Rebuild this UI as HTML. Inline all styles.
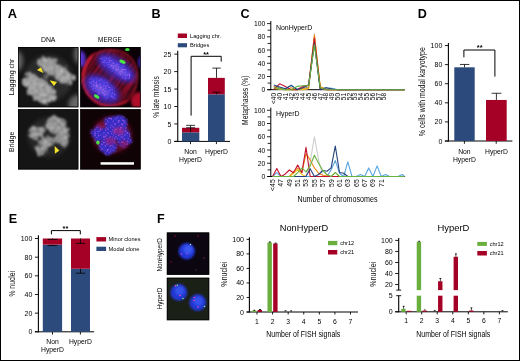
<!DOCTYPE html>
<html><head><meta charset="utf-8"><title>Figure</title>
<style>
html,body{margin:0;padding:0;background:#fff;}
body{width:520px;height:361px;overflow:hidden;position:relative;}
svg{position:absolute;left:0;top:0;display:block;font-family:"Liberation Sans",sans-serif;}
</style></head><body>
<svg width="520" height="361" viewBox="0 0 520 361">
<defs>
<filter id="b1" x="-30%" y="-30%" width="160%" height="160%"><feGaussianBlur stdDeviation="1"/></filter>
<filter id="b15" x="-30%" y="-30%" width="160%" height="160%"><feGaussianBlur stdDeviation="1.5"/></filter>
<filter id="b2" x="-30%" y="-30%" width="160%" height="160%"><feGaussianBlur stdDeviation="2.2"/></filter>
<filter id="b05" x="-30%" y="-30%" width="160%" height="160%"><feGaussianBlur stdDeviation="0.6"/></filter>
<filter id="chr" x="-10%" y="-10%" width="120%" height="120%" color-interpolation-filters="sRGB">
<feTurbulence type="fractalNoise" baseFrequency="0.16" numOctaves="2" seed="4" result="n"/>
<feDisplacementMap in="SourceGraphic" in2="n" scale="9" xChannelSelector="R" yChannelSelector="G" result="d"/>
<feGaussianBlur in="d" stdDeviation="1.0" result="db"/>
<feTurbulence type="fractalNoise" baseFrequency="0.3" numOctaves="2" seed="11" result="n2"/>
<feColorMatrix in="n2" type="matrix" values="0 0 0 0 1  0 0 0 0 1  0 0 0 0 1  1.1 0 0 0 -0.36" result="n2a"/>
<feComposite in="n2a" in2="db" operator="in" result="tex"/>
<feGaussianBlur in="tex" stdDeviation="0.9" result="texb"/>
<feMerge><feMergeNode in="db"/><feMergeNode in="texb"/></feMerge>
</filter>
<filter id="fib" x="-10%" y="-10%" width="120%" height="120%" color-interpolation-filters="sRGB">
<feTurbulence type="fractalNoise" baseFrequency="0.03 0.5" numOctaves="2" seed="5" result="n"/>
<feColorMatrix in="n" type="matrix" values="0 0 0 0 0.72  0 0 0 0 0.06  0 0 0 0 0.2  1.7 0 0 0 -0.62" result="na"/>
<feGaussianBlur in="SourceGraphic" stdDeviation="1.2" result="sb"/>
<feComposite in="na" in2="sb" operator="in" result="t"/>
<feGaussianBlur in="t" stdDeviation="0.6" result="tb"/>
<feMerge><feMergeNode in="sb"/><feMergeNode in="tb"/></feMerge>
</filter>
<filter id="spk" x="-10%" y="-10%" width="120%" height="120%" color-interpolation-filters="sRGB">
<feTurbulence type="fractalNoise" baseFrequency="0.14" numOctaves="2" seed="9" result="n0"/>
<feDisplacementMap in="SourceGraphic" in2="n0" scale="7" xChannelSelector="R" yChannelSelector="G" result="d"/>
<feGaussianBlur in="d" stdDeviation="1.3" result="sb"/>
<feTurbulence type="fractalNoise" baseFrequency="0.55" numOctaves="1" seed="2" result="n"/>
<feColorMatrix in="n" type="matrix" values="0 0 0 0 0.8  0 0 0 0 0.4  0 0 0 0 0.95  2.6 0 0 0 -1.25" result="na"/>
<feComposite in="na" in2="sb" operator="in" result="t"/>
<feGaussianBlur in="t" stdDeviation="0.5" result="tb"/>
<feMerge><feMergeNode in="sb"/><feMergeNode in="tb"/></feMerge>
</filter>
<clipPath id="cA1"><rect x="18" y="47" width="60.3" height="60.2"/></clipPath>
<clipPath id="cA2"><rect x="18" y="109.2" width="60.3" height="60.2"/></clipPath>
<clipPath id="cA3"><rect x="80.2" y="47" width="60.4" height="60.2"/></clipPath>
<clipPath id="cA4"><rect x="80.2" y="109.2" width="60.4" height="60.2"/></clipPath>
<clipPath id="cF1"><rect x="166.7" y="232.4" width="42.6" height="42.4"/></clipPath>
<clipPath id="cF2"><rect x="166.7" y="277.6" width="42.6" height="42.7"/></clipPath>
</defs>
<rect x="0" y="0" width="520" height="361" fill="#fff"/>
<g opacity="0.999">

<!-- Panel A -->
<text x="7.75" y="17.8" font-size="12.6" text-anchor="start" font-weight="bold" textLength="9.3" lengthAdjust="spacingAndGlyphs" fill="#000" >A</text>
<text x="48.2" y="42.3" font-size="6.8" text-anchor="middle" textLength="14.6" lengthAdjust="spacingAndGlyphs" fill="#000" >DNA</text>
<text x="109.9" y="42.3" font-size="6.8" text-anchor="middle" textLength="23.6" lengthAdjust="spacingAndGlyphs" fill="#000" >MERGE</text>
<text x="14.1" y="77" font-size="6.7" text-anchor="middle" transform="rotate(-90 14.1 77)" textLength="36.6" lengthAdjust="spacingAndGlyphs" fill="#000" >Lagging chr</text>
<text x="14.1" y="141.8" font-size="6.8" text-anchor="middle" transform="rotate(-90 14.1 141.8)" textLength="20.4" lengthAdjust="spacingAndGlyphs" fill="#000" >Bridge</text>
<g clip-path="url(#cA1)">
<rect x="18.00" y="47.00" width="61.00" height="61.00" fill="#161616"/>
<ellipse cx="48.5" cy="78" rx="24" ry="23" fill="#2b2b2b" filter="url(#b2)"/>
<g filter="url(#b2)">
<ellipse cx="17.5" cy="61" rx="5.5" ry="10" fill="#666"/>
<ellipse cx="79.5" cy="54" rx="5.5" ry="10" fill="#666"/>
<ellipse cx="78" cy="104.5" rx="9.5" ry="9.5" fill="#666"/>
</g>
<g filter="url(#chr)" fill="#888888">
<ellipse cx="55" cy="70" rx="20" ry="7.5" transform="rotate(30 55 70)"/>
<ellipse cx="67" cy="79" rx="7.5" ry="6.5"/>
<ellipse cx="45" cy="61.5" rx="7" ry="5"/>
<ellipse cx="41" cy="90" rx="17" ry="10.5" transform="rotate(38 41 90)"/>
<ellipse cx="30" cy="80.5" rx="7" ry="7.5"/>
<ellipse cx="50" cy="99" rx="6" ry="5"/>
<ellipse cx="46.5" cy="77" rx="2.3" ry="1.8" fill="#6a6a6a"/>
</g>
<polygon points="36.9,70 41.1,67.2 43.3,73" fill="#F4E22A"/>
<polygon points="49.6,80.3 57,82.1 54,86" fill="#F4E22A"/>
</g>
<g clip-path="url(#cA2)">
<rect x="18.00" y="109.00" width="61.00" height="61.00" fill="#151515"/>
<ellipse cx="49" cy="137" rx="21" ry="20" fill="#282828" filter="url(#b2)"/>
<g filter="url(#chr)" fill="#7e7e7e">
<ellipse cx="37" cy="132.5" rx="9.5" ry="6" transform="rotate(-20 37 132.5)"/>
<ellipse cx="55" cy="124" rx="9" ry="9" transform="rotate(30 55 124)"/>
<ellipse cx="62.5" cy="135.5" rx="7" ry="10"/>
<ellipse cx="41.5" cy="149.5" rx="6" ry="5.5"/>
<ellipse cx="46" cy="141.5" rx="6" ry="5.5"/>
<ellipse cx="53" cy="139.5" rx="7" ry="2.2"/>
</g>
<polygon points="54.6,145.9 59.4,150.6 54.9,153.7" fill="#F4E22A"/>
</g>
<g clip-path="url(#cA3)">
<rect x="80.20" y="47.00" width="61.00" height="61.00" fill="#0b0207"/>
<g transform="rotate(-55 109 77)"><g filter="url(#fib)">
<ellipse cx="109" cy="77" rx="27.5" ry="28.5" fill="#420a18"/>
</g></g>
<g filter="url(#b1)" fill="none" stroke-linecap="round">
<path d="M 92 56 Q 82 66 83.5 82 Q 86 97 100 104 Q 114 108 127 101" stroke="#d01a30" stroke-width="2.5"/>
<path d="M 92 56 Q 104 48 120 51 Q 132 55 136.5 68 Q 139 80 134 92 Q 131 98 127 101" stroke="#9c1426" stroke-width="1.6"/>
</g>
<g filter="url(#b15)">
<ellipse cx="139" cy="101" rx="8" ry="9" fill="#b0102c"/>
<ellipse cx="81" cy="59" rx="4.5" ry="8" fill="#5a32d0"/>
<ellipse cx="141.5" cy="62" rx="3" ry="6" fill="#4a2ad0"/>
</g>
<g filter="url(#b2)" fill="#3a2cc0" opacity="0.8">
<ellipse cx="116.5" cy="68" rx="22" ry="10.5" transform="rotate(33 116.5 68)"/>
<ellipse cx="102" cy="89" rx="20" ry="12" transform="rotate(35 102 89)"/>
</g>
<g filter="url(#spk)" fill="#4438d8">
<ellipse cx="117" cy="68" rx="18" ry="6" transform="rotate(33 117 68)"/>
<ellipse cx="102.5" cy="88.5" rx="16" ry="7.5" transform="rotate(35 102.5 88.5)"/>
</g>
<g filter="url(#b15)" fill="#a070e8" opacity="0.5">
<ellipse cx="119" cy="70" rx="11" ry="2.6" transform="rotate(33 119 70)"/>
<ellipse cx="101" cy="89.5" rx="10" ry="3" transform="rotate(35 101 89.5)"/>
</g>
<g filter="url(#b05)">
<ellipse cx="122.5" cy="61.7" rx="3.3" ry="1.7" transform="rotate(25 122.5 61.7)" fill="#49e83f"/>
<ellipse cx="127.4" cy="49.5" rx="2.4" ry="1.5" fill="#3fd83f"/>
<ellipse cx="96.7" cy="96.6" rx="3" ry="1.7" transform="rotate(30 96.7 96.6)" fill="#49e83f"/>
</g>
</g>
<g clip-path="url(#cA4)">
<rect x="80.20" y="109.00" width="61.00" height="61.00" fill="#100305"/>
<g filter="url(#b2)">
<ellipse cx="112" cy="135" rx="20" ry="18.5" fill="#5a0c26"/>
</g>
<g filter="url(#spk)" fill="#342cc4">
<ellipse cx="100" cy="134" rx="8.5" ry="8"/>
<ellipse cx="116" cy="125" rx="12" ry="9"/>
<ellipse cx="108" cy="147" rx="9" ry="7.5"/>
<ellipse cx="124" cy="138" rx="7" ry="9.5"/>
<ellipse cx="112" cy="137" rx="7" ry="6"/>
</g>
<g filter="url(#b15)" opacity="0.55">
<ellipse cx="119" cy="131" rx="6" ry="4" fill="#c02070"/>
<ellipse cx="110" cy="141" rx="5" ry="4" fill="#b01860"/>
<ellipse cx="124" cy="144" rx="4" ry="4" fill="#a01040"/>
<ellipse cx="101" cy="126" rx="4" ry="3" fill="#a01040"/>
</g>
<g filter="url(#b05)">
<ellipse cx="97.9" cy="142.6" rx="1.7" ry="2.1" fill="#4fe23f"/>
</g>
<rect x="100.20" y="161.80" width="34.20" height="3.30" fill="#000"/>
<rect x="100.60" y="162.20" width="33.40" height="2.50" fill="#fff"/>
</g>
<rect x="18.35" y="47.35" width="59.599999999999994" height="59.5" fill="none" stroke="#000" stroke-width="0.7"/>
<rect x="18.35" y="109.55" width="59.599999999999994" height="59.5" fill="none" stroke="#000" stroke-width="0.7"/>
<rect x="80.55" y="47.35" width="59.699999999999996" height="59.5" fill="none" stroke="#000" stroke-width="0.7"/>
<rect x="80.55" y="109.55" width="59.699999999999996" height="59.5" fill="none" stroke="#000" stroke-width="0.7"/>
<!-- Panel B -->
<text x="151.5" y="17.7" font-size="12.6" text-anchor="start" font-weight="bold" fill="#000" >B</text>
<rect x="177.80" y="33.50" width="9.20" height="4.50" fill="#A50026"/>
<text x="190" y="38" font-size="5.7" text-anchor="start" fill="#000" >Lagging chr.</text>
<rect x="177.80" y="43.20" width="9.20" height="4.10" fill="#2C4A7C"/>
<text x="190" y="47.2" font-size="5.7" text-anchor="start" fill="#000" >Bridges</text>
<line x1="177.75" y1="50.8" x2="177.75" y2="141.85" stroke="#000" stroke-width="1.1"/>
<line x1="174.3" y1="141.4" x2="177.75" y2="141.4" stroke="#000" stroke-width="0.9"/>
<text x="171.4" y="143.95000000000002" font-size="7" text-anchor="end" fill="#000" >0</text>
<line x1="174.3" y1="123.95" x2="177.75" y2="123.95" stroke="#000" stroke-width="0.9"/>
<text x="171.4" y="126.5" font-size="7" text-anchor="end" fill="#000" >5</text>
<line x1="174.3" y1="106.5" x2="177.75" y2="106.5" stroke="#000" stroke-width="0.9"/>
<text x="171.4" y="109.05" font-size="7" text-anchor="end" fill="#000" >10</text>
<line x1="174.3" y1="89.05000000000001" x2="177.75" y2="89.05000000000001" stroke="#000" stroke-width="0.9"/>
<text x="171.4" y="91.60000000000001" font-size="7" text-anchor="end" fill="#000" >15</text>
<line x1="174.3" y1="71.6" x2="177.75" y2="71.6" stroke="#000" stroke-width="0.9"/>
<text x="171.4" y="74.14999999999999" font-size="7" text-anchor="end" fill="#000" >20</text>
<line x1="174.3" y1="54.150000000000006" x2="177.75" y2="54.150000000000006" stroke="#000" stroke-width="0.9"/>
<text x="171.4" y="56.7" font-size="7" text-anchor="end" fill="#000" >25</text>
<line x1="174.3" y1="141.4" x2="230" y2="141.4" stroke="#000" stroke-width="1.0"/>
<line x1="190.5" y1="141.4" x2="190.5" y2="144.1" stroke="#000" stroke-width="0.9"/>
<line x1="216.4" y1="141.4" x2="216.4" y2="144.1" stroke="#000" stroke-width="0.9"/>
<rect x="182.00" y="132.33" width="17.30" height="9.07" fill="#2C4A7C"/>
<rect x="182.00" y="127.79" width="17.30" height="4.54" fill="#A50026"/>
<rect x="208.00" y="94.28" width="16.80" height="47.12" fill="#2C4A7C"/>
<rect x="208.00" y="77.88" width="16.80" height="16.40" fill="#A50026"/>
<line x1="190.6" y1="125.346" x2="190.6" y2="132.326" stroke="#000" stroke-width="0.8"/>
<line x1="186.2" y1="125.346" x2="195.1" y2="125.346" stroke="#000" stroke-width="0.8"/>
<line x1="186.2" y1="127.789" x2="195.1" y2="127.789" stroke="#000" stroke-width="0.8"/>
<line x1="216.5" y1="68.11" x2="216.5" y2="77.882" stroke="#000" stroke-width="0.8"/>
<line x1="212.4" y1="68.11" x2="220.7" y2="68.11" stroke="#000" stroke-width="0.8"/>
<line x1="216.5" y1="92.191" x2="216.5" y2="94.285" stroke="#000" stroke-width="0.8"/>
<line x1="212.6" y1="92.191" x2="220.5" y2="92.191" stroke="#000" stroke-width="0.8"/>
<polyline points="191.1,115.6 191.1,56.3 221.2,56.3 221.2,61.6" fill="none" stroke="#000" stroke-width="1"/>
<text x="206.1" y="56.5" font-size="7.4" text-anchor="middle" font-weight="bold" fill="#000" >**</text>
<text x="190.5" y="153.5" font-size="6.8" text-anchor="middle" fill="#000" >Non</text>
<text x="190.5" y="162.2" font-size="6.8" text-anchor="middle" fill="#000" >HyperD</text>
<text x="216.5" y="153.5" font-size="6.8" text-anchor="middle" fill="#000" >HyperD</text>
<text x="159.3" y="97" font-size="9" text-anchor="middle" transform="rotate(-90 159.3 97)" textLength="41.6" lengthAdjust="spacingAndGlyphs" fill="#0a0a0a" >% late mitosis</text>
<!-- Panel C -->
<text x="240.4" y="17.8" font-size="12.6" text-anchor="start" font-weight="bold" fill="#000" >C</text>
<line x1="270.8" y1="21.0" x2="270.8" y2="90.15" stroke="#000" stroke-width="1.0"/>
<line x1="267.6" y1="89.7" x2="405.09999999999997" y2="89.7" stroke="#000" stroke-width="1.0"/>
<line x1="267.0" y1="89.7" x2="270.8" y2="89.7" stroke="#000" stroke-width="0.85"/>
<text x="265.4" y="92.2" font-size="6.8" text-anchor="end" fill="#000" >0</text>
<line x1="267.6" y1="83.09" x2="270.8" y2="83.09" stroke="#000" stroke-width="0.85"/>
<line x1="267.0" y1="76.48" x2="270.8" y2="76.48" stroke="#000" stroke-width="0.85"/>
<text x="265.4" y="78.98" font-size="6.8" text-anchor="end" fill="#000" >20</text>
<line x1="267.6" y1="69.87" x2="270.8" y2="69.87" stroke="#000" stroke-width="0.85"/>
<line x1="267.0" y1="63.260000000000005" x2="270.8" y2="63.260000000000005" stroke="#000" stroke-width="0.85"/>
<text x="265.4" y="65.76" font-size="6.8" text-anchor="end" fill="#000" >40</text>
<line x1="267.6" y1="56.650000000000006" x2="270.8" y2="56.650000000000006" stroke="#000" stroke-width="0.85"/>
<line x1="267.0" y1="50.040000000000006" x2="270.8" y2="50.040000000000006" stroke="#000" stroke-width="0.85"/>
<text x="265.4" y="52.540000000000006" font-size="6.8" text-anchor="end" fill="#000" >60</text>
<line x1="267.6" y1="43.43000000000001" x2="270.8" y2="43.43000000000001" stroke="#000" stroke-width="0.85"/>
<line x1="267.0" y1="36.82000000000001" x2="270.8" y2="36.82000000000001" stroke="#000" stroke-width="0.85"/>
<text x="265.4" y="39.32000000000001" font-size="6.8" text-anchor="end" fill="#000" >80</text>
<line x1="267.6" y1="30.210000000000008" x2="270.8" y2="30.210000000000008" stroke="#000" stroke-width="0.85"/>
<line x1="267.0" y1="23.60000000000001" x2="270.8" y2="23.60000000000001" stroke="#000" stroke-width="0.85"/>
<text x="265.4" y="26.10000000000001" font-size="6.8" text-anchor="end" fill="#000" >100</text>
<polyline points="273.8,87.7 279.6,89.0 285.4,89.7 302.8,89.7 308.6,88.4 314.4,33.5 320.2,87.7 326.0,89.7 401.5,89.7 404.4,89.7" fill="none" stroke="#CFCFCF" stroke-width="1.1" stroke-linejoin="round"/>
<polyline points="273.8,86.4 279.6,87.7 285.4,88.4 291.2,85.7 297.0,89.0 302.8,88.4 308.6,87.1 314.4,42.1 320.2,88.4 326.0,87.7 331.9,88.4 337.7,89.7 401.5,89.7 404.4,89.7" fill="none" stroke="#5AA5E0" stroke-width="1.1" stroke-linejoin="round"/>
<polyline points="273.8,88.4 279.6,89.0 285.4,89.7 302.8,89.7 308.6,88.4 314.4,36.8 320.2,86.4 326.0,89.7 401.5,89.7 404.4,89.7" fill="none" stroke="#F2C318" stroke-width="1.1" stroke-linejoin="round"/>
<polyline points="273.8,86.4 279.6,88.4 285.4,89.7 291.2,87.7 297.0,89.7 302.8,88.4 308.6,87.7 314.4,34.8 320.2,87.1 326.0,89.0 331.9,89.7 401.5,89.7 404.4,89.7" fill="none" stroke="#F08C1A" stroke-width="1.1" stroke-linejoin="round"/>
<polyline points="273.8,89.7 279.6,83.8 285.4,86.4 291.2,89.7 297.0,89.7 302.8,86.4 308.6,85.1 314.4,38.1 320.2,88.4 326.0,89.7 401.5,89.7 404.4,89.7" fill="none" stroke="#C4122F" stroke-width="1.1" stroke-linejoin="round"/>
<polyline points="273.8,85.1 279.6,87.1 285.4,89.0 291.2,85.1 297.0,89.7 302.8,87.7 308.6,85.1 314.4,43.4 320.2,89.7 326.0,87.7 331.9,89.0 337.7,89.7 401.5,89.7 404.4,89.7" fill="none" stroke="#24407A" stroke-width="1.1" stroke-linejoin="round"/>
<polyline points="273.8,87.7 279.6,88.4 285.4,89.7 291.2,89.7 297.0,86.4 302.8,85.7 308.6,85.7 314.4,44.8 320.2,87.7 326.0,89.7 401.5,89.7 404.4,89.7" fill="none" stroke="#69B23F" stroke-width="1.1" stroke-linejoin="round"/>
<text x="275.9" y="29.5" font-size="6.9" text-anchor="start" textLength="36.4" lengthAdjust="spacingAndGlyphs" fill="#000" >NonHyperD</text>
<text x="276.20" y="92.9" font-size="6.6" text-anchor="end" transform="rotate(-90 276.20 92.9)" fill="#000" >&lt;40</text>
<text x="282.00" y="92.9" font-size="6.6" text-anchor="end" transform="rotate(-90 282.00 92.9)" fill="#000" >40</text>
<text x="287.81" y="92.9" font-size="6.6" text-anchor="end" transform="rotate(-90 287.81 92.9)" fill="#000" >41</text>
<text x="293.62" y="92.9" font-size="6.6" text-anchor="end" transform="rotate(-90 293.62 92.9)" fill="#000" >42</text>
<text x="299.42" y="92.9" font-size="6.6" text-anchor="end" transform="rotate(-90 299.42 92.9)" fill="#000" >43</text>
<text x="305.22" y="92.9" font-size="6.6" text-anchor="end" transform="rotate(-90 305.22 92.9)" fill="#000" >44</text>
<text x="311.03" y="92.9" font-size="6.6" text-anchor="end" transform="rotate(-90 311.03 92.9)" fill="#000" >45</text>
<text x="316.83" y="92.9" font-size="6.6" text-anchor="end" transform="rotate(-90 316.83 92.9)" fill="#000" >46</text>
<text x="322.64" y="92.9" font-size="6.6" text-anchor="end" transform="rotate(-90 322.64 92.9)" fill="#000" >47</text>
<text x="328.44" y="92.9" font-size="6.6" text-anchor="end" transform="rotate(-90 328.44 92.9)" fill="#000" >48</text>
<text x="334.25" y="92.9" font-size="6.6" text-anchor="end" transform="rotate(-90 334.25 92.9)" fill="#000" >49</text>
<text x="340.06" y="92.9" font-size="6.6" text-anchor="end" transform="rotate(-90 340.06 92.9)" fill="#000" >50</text>
<text x="345.86" y="92.9" font-size="6.6" text-anchor="end" transform="rotate(-90 345.86 92.9)" fill="#000" >51</text>
<text x="351.66" y="92.9" font-size="6.6" text-anchor="end" transform="rotate(-90 351.66 92.9)" fill="#000" >52</text>
<text x="357.47" y="92.9" font-size="6.6" text-anchor="end" transform="rotate(-90 357.47 92.9)" fill="#000" >53</text>
<text x="363.27" y="92.9" font-size="6.6" text-anchor="end" transform="rotate(-90 363.27 92.9)" fill="#000" >54</text>
<text x="369.08" y="92.9" font-size="6.6" text-anchor="end" transform="rotate(-90 369.08 92.9)" fill="#000" >55</text>
<text x="374.88" y="92.9" font-size="6.6" text-anchor="end" transform="rotate(-90 374.88 92.9)" fill="#000" >56</text>
<text x="380.69" y="92.9" font-size="6.6" text-anchor="end" transform="rotate(-90 380.69 92.9)" fill="#000" >57</text>
<text x="386.50" y="92.9" font-size="6.6" text-anchor="end" transform="rotate(-90 386.50 92.9)" fill="#000" >58</text>
<line x1="270.8" y1="107.65" x2="270.8" y2="176.95" stroke="#000" stroke-width="1.0"/>
<line x1="267.6" y1="176.5" x2="405.09999999999997" y2="176.5" stroke="#000" stroke-width="1.0"/>
<line x1="267.0" y1="176.5" x2="270.8" y2="176.5" stroke="#000" stroke-width="0.85"/>
<text x="265.4" y="179.0" font-size="6.8" text-anchor="end" fill="#000" >0</text>
<line x1="267.6" y1="169.875" x2="270.8" y2="169.875" stroke="#000" stroke-width="0.85"/>
<line x1="267.0" y1="163.25" x2="270.8" y2="163.25" stroke="#000" stroke-width="0.85"/>
<text x="265.4" y="165.75" font-size="6.8" text-anchor="end" fill="#000" >20</text>
<line x1="267.6" y1="156.625" x2="270.8" y2="156.625" stroke="#000" stroke-width="0.85"/>
<line x1="267.0" y1="150.0" x2="270.8" y2="150.0" stroke="#000" stroke-width="0.85"/>
<text x="265.4" y="152.5" font-size="6.8" text-anchor="end" fill="#000" >40</text>
<line x1="267.6" y1="143.375" x2="270.8" y2="143.375" stroke="#000" stroke-width="0.85"/>
<line x1="267.0" y1="136.75" x2="270.8" y2="136.75" stroke="#000" stroke-width="0.85"/>
<text x="265.4" y="139.25" font-size="6.8" text-anchor="end" fill="#000" >60</text>
<line x1="267.6" y1="130.125" x2="270.8" y2="130.125" stroke="#000" stroke-width="0.85"/>
<line x1="267.0" y1="123.5" x2="270.8" y2="123.5" stroke="#000" stroke-width="0.85"/>
<text x="265.4" y="126.0" font-size="6.8" text-anchor="end" fill="#000" >80</text>
<line x1="267.6" y1="116.875" x2="270.8" y2="116.875" stroke="#000" stroke-width="0.85"/>
<line x1="267.0" y1="110.25" x2="270.8" y2="110.25" stroke="#000" stroke-width="0.85"/>
<text x="265.4" y="112.75" font-size="6.8" text-anchor="end" fill="#000" >100</text>
<polyline points="272.6,176.5 306.0,176.5 310.2,161.9 314.4,136.8 318.6,159.9 322.8,176.5 402.2,176.5 404.4,176.5" fill="none" stroke="#CFCFCF" stroke-width="1.1" stroke-linejoin="round"/>
<polyline points="272.6,176.5 289.3,176.5 293.5,173.2 297.7,169.9 301.9,174.5 306.0,176.5 402.2,176.5 404.4,176.5" fill="none" stroke="#F2C318" stroke-width="1.1" stroke-linejoin="round"/>
<polyline points="272.6,176.5 276.8,172.7 281.0,176.5 326.9,176.5 331.1,169.9 335.3,160.6 339.5,173.2 343.7,176.5 347.8,161.9 352.0,176.5 356.2,176.5 360.4,174.5 364.6,176.5 368.7,167.9 372.9,176.5 377.1,165.9 381.3,176.5 385.5,174.5 389.6,176.5 398.0,176.5 402.2,174.5 404.4,176.5" fill="none" stroke="#5AA5E0" stroke-width="1.1" stroke-linejoin="round"/>
<polyline points="272.6,176.5 289.3,176.5 293.5,171.9 297.7,168.1 301.9,172.5 306.0,153.6 310.2,159.9 314.4,167.9 318.6,173.2 322.8,175.2 326.9,175.8 331.1,176.5 402.2,176.5 404.4,176.5" fill="none" stroke="#F08C1A" stroke-width="1.1" stroke-linejoin="round"/>
<polyline points="272.6,176.5 276.8,168.6 281.0,176.5 285.1,174.2 289.3,170.0 293.5,172.7 297.7,165.1 301.9,172.7 306.0,147.3 310.2,176.5 402.2,176.5 404.4,176.5" fill="none" stroke="#C4122F" stroke-width="1.1" stroke-linejoin="round"/>
<polyline points="272.6,176.5 306.0,176.5 310.2,168.8 314.4,176.5 318.6,174.5 322.8,170.5 326.9,171.2 331.1,167.9 335.3,146.0 339.5,172.5 343.7,173.2 347.8,176.5 402.2,176.5 404.4,176.5" fill="none" stroke="#24407A" stroke-width="1.1" stroke-linejoin="round"/>
<polyline points="272.6,176.5 293.5,176.5 297.7,172.7 301.9,168.1 306.0,171.9 310.2,165.9 314.4,155.3 318.6,163.2 322.8,170.5 326.9,174.5 331.1,176.5 335.3,172.5 339.5,176.5 402.2,176.5 404.4,176.5" fill="none" stroke="#69B23F" stroke-width="1.1" stroke-linejoin="round"/>
<text x="275.9" y="116.4" font-size="6.9" text-anchor="start" textLength="23.6" lengthAdjust="spacingAndGlyphs" fill="#000" >HyperD</text>
<text x="275.00" y="179.2" font-size="6.9" text-anchor="end" transform="rotate(-90 275.00 179.2)" fill="#000" >&lt;45</text>
<text x="283.36" y="179.2" font-size="6.9" text-anchor="end" transform="rotate(-90 283.36 179.2)" fill="#000" >47</text>
<text x="291.72" y="179.2" font-size="6.9" text-anchor="end" transform="rotate(-90 291.72 179.2)" fill="#000" >49</text>
<text x="300.08" y="179.2" font-size="6.9" text-anchor="end" transform="rotate(-90 300.08 179.2)" fill="#000" >51</text>
<text x="308.44" y="179.2" font-size="6.9" text-anchor="end" transform="rotate(-90 308.44 179.2)" fill="#000" >53</text>
<text x="316.80" y="179.2" font-size="6.9" text-anchor="end" transform="rotate(-90 316.80 179.2)" fill="#000" >55</text>
<text x="325.16" y="179.2" font-size="6.9" text-anchor="end" transform="rotate(-90 325.16 179.2)" fill="#000" >57</text>
<text x="333.52" y="179.2" font-size="6.9" text-anchor="end" transform="rotate(-90 333.52 179.2)" fill="#000" >59</text>
<text x="341.88" y="179.2" font-size="6.9" text-anchor="end" transform="rotate(-90 341.88 179.2)" fill="#000" >61</text>
<text x="350.24" y="179.2" font-size="6.9" text-anchor="end" transform="rotate(-90 350.24 179.2)" fill="#000" >63</text>
<text x="358.60" y="179.2" font-size="6.9" text-anchor="end" transform="rotate(-90 358.60 179.2)" fill="#000" >65</text>
<text x="366.96" y="179.2" font-size="6.9" text-anchor="end" transform="rotate(-90 366.96 179.2)" fill="#000" >67</text>
<text x="375.32" y="179.2" font-size="6.9" text-anchor="end" transform="rotate(-90 375.32 179.2)" fill="#000" >69</text>
<text x="383.68" y="179.2" font-size="6.9" text-anchor="end" transform="rotate(-90 383.68 179.2)" fill="#000" >71</text>
<text x="247.8" y="100.2" font-size="8.8" text-anchor="middle" transform="rotate(-90 247.8 100.2)" textLength="49.7" lengthAdjust="spacingAndGlyphs" fill="#0a0a0a" >Metaphases (%)</text>
<text x="337.5" y="201.6" font-size="8.8" text-anchor="middle" textLength="80" lengthAdjust="spacingAndGlyphs" fill="#000" >Number of chromosomes</text>
<!-- Panel D -->
<text x="417.7" y="17.7" font-size="12.6" text-anchor="start" font-weight="bold" fill="#000" >D</text>
<line x1="448.4" y1="42.9" x2="448.4" y2="141.45" stroke="#000" stroke-width="1.1"/>
<line x1="444.9" y1="141.0" x2="448.4" y2="141.0" stroke="#000" stroke-width="0.9"/>
<text x="442.3" y="143.55" font-size="7" text-anchor="end" fill="#000" >0</text>
<line x1="444.9" y1="121.91" x2="448.4" y2="121.91" stroke="#000" stroke-width="0.9"/>
<text x="442.3" y="124.46" font-size="7" text-anchor="end" fill="#000" >20</text>
<line x1="444.9" y1="102.82" x2="448.4" y2="102.82" stroke="#000" stroke-width="0.9"/>
<text x="442.3" y="105.36999999999999" font-size="7" text-anchor="end" fill="#000" >40</text>
<line x1="444.9" y1="83.72999999999999" x2="448.4" y2="83.72999999999999" stroke="#000" stroke-width="0.9"/>
<text x="442.3" y="86.27999999999999" font-size="7" text-anchor="end" fill="#000" >60</text>
<line x1="444.9" y1="64.64" x2="448.4" y2="64.64" stroke="#000" stroke-width="0.9"/>
<text x="442.3" y="67.19" font-size="7" text-anchor="end" fill="#000" >80</text>
<line x1="444.9" y1="45.55" x2="448.4" y2="45.55" stroke="#000" stroke-width="0.9"/>
<text x="442.3" y="48.099999999999994" font-size="7" text-anchor="end" fill="#000" >100</text>
<line x1="444.9" y1="141.0" x2="512.4" y2="141.0" stroke="#000" stroke-width="1.0"/>
<line x1="464.4" y1="141.0" x2="464.4" y2="143.8" stroke="#000" stroke-width="0.9"/>
<line x1="496.2" y1="141.0" x2="496.2" y2="143.8" stroke="#000" stroke-width="0.9"/>
<rect x="454.30" y="67.31" width="20.40" height="73.69" fill="#2C4A7C"/>
<rect x="486.00" y="99.96" width="20.70" height="41.04" fill="#A50026"/>
<line x1="464.5" y1="64.4491" x2="464.5" y2="67.31259999999999" stroke="#000" stroke-width="0.8"/>
<line x1="459.9" y1="64.4491" x2="469.4" y2="64.4491" stroke="#000" stroke-width="0.8"/>
<line x1="496.4" y1="93.275" x2="496.4" y2="99.9565" stroke="#000" stroke-width="0.8"/>
<line x1="491.6" y1="93.275" x2="501.4" y2="93.275" stroke="#000" stroke-width="0.8"/>
<polyline points="463.9,57.3 463.9,50 494.9,50 494.9,76.6" fill="none" stroke="#000" stroke-width="1"/>
<text x="479.7" y="49.7" font-size="7.4" text-anchor="middle" font-weight="bold" fill="#000" >**</text>
<text x="464.4" y="153.9" font-size="6.8" text-anchor="middle" fill="#000" >Non</text>
<text x="464.4" y="162" font-size="6.8" text-anchor="middle" fill="#000" >HyperD</text>
<text x="496.5" y="153.9" font-size="6.8" text-anchor="middle" fill="#000" >HyperD</text>
<text x="425" y="91.7" font-size="9.3" text-anchor="middle" transform="rotate(-90 425 91.7)" textLength="89" lengthAdjust="spacingAndGlyphs" fill="#0a0a0a" >% cells with modal karyotype</text>
<!-- Panel E -->
<text x="8.8" y="223" font-size="12.6" text-anchor="start" font-weight="bold" fill="#000" >E</text>
<line x1="38.4" y1="235.2" x2="38.4" y2="332.3" stroke="#000" stroke-width="1.1"/>
<line x1="34.9" y1="331.8" x2="38.4" y2="331.8" stroke="#000" stroke-width="0.9"/>
<text x="32.4" y="334.35" font-size="7" text-anchor="end" fill="#000" >0</text>
<line x1="34.9" y1="313.14" x2="38.4" y2="313.14" stroke="#000" stroke-width="0.9"/>
<text x="32.4" y="315.69" font-size="7" text-anchor="end" fill="#000" >20</text>
<line x1="34.9" y1="294.48" x2="38.4" y2="294.48" stroke="#000" stroke-width="0.9"/>
<text x="32.4" y="297.03000000000003" font-size="7" text-anchor="end" fill="#000" >40</text>
<line x1="34.9" y1="275.82" x2="38.4" y2="275.82" stroke="#000" stroke-width="0.9"/>
<text x="32.4" y="278.37" font-size="7" text-anchor="end" fill="#000" >60</text>
<line x1="34.9" y1="257.16" x2="38.4" y2="257.16" stroke="#000" stroke-width="0.9"/>
<text x="32.4" y="259.71000000000004" font-size="7" text-anchor="end" fill="#000" >80</text>
<line x1="34.9" y1="238.5" x2="38.4" y2="238.5" stroke="#000" stroke-width="0.9"/>
<text x="32.4" y="241.05" font-size="7" text-anchor="end" fill="#000" >100</text>
<line x1="34.9" y1="331.8" x2="94.2" y2="331.8" stroke="#000" stroke-width="1.0"/>
<line x1="52.5" y1="331.8" x2="52.5" y2="334.5" stroke="#000" stroke-width="0.9"/>
<line x1="80.4" y1="331.8" x2="80.4" y2="334.5" stroke="#000" stroke-width="0.9"/>
<rect x="42.80" y="244.66" width="19.30" height="87.14" fill="#2C4A7C"/>
<rect x="42.80" y="238.50" width="19.30" height="6.16" fill="#A50026"/>
<rect x="71.00" y="268.73" width="19.00" height="63.07" fill="#2C4A7C"/>
<rect x="71.00" y="238.50" width="19.00" height="30.23" fill="#A50026"/>
<line x1="52.4" y1="238.5" x2="52.4" y2="239.433" stroke="#000" stroke-width="0.8"/>
<line x1="47.5" y1="239.433" x2="57.3" y2="239.433" stroke="#000" stroke-width="0.8"/>
<line x1="52.4" y1="244.6578" x2="52.4" y2="245.5908" stroke="#000" stroke-width="0.8"/>
<line x1="47.5" y1="245.5908" x2="57.3" y2="245.5908" stroke="#000" stroke-width="0.8"/>
<line x1="80.5" y1="238.5" x2="80.5" y2="243.35160000000002" stroke="#000" stroke-width="0.8"/>
<line x1="75.8" y1="243.35160000000002" x2="85.2" y2="243.35160000000002" stroke="#000" stroke-width="0.8"/>
<line x1="80.5" y1="268.7292" x2="80.5" y2="273.2076" stroke="#000" stroke-width="0.8"/>
<line x1="75.8" y1="273.2076" x2="85.2" y2="273.2076" stroke="#000" stroke-width="0.8"/>
<polyline points="51.4,234.4 51.4,230.6 80.3,230.6 80.3,234.4" fill="none" stroke="#000" stroke-width="1"/>
<text x="65.5" y="231.2" font-size="7.4" text-anchor="middle" font-weight="bold" fill="#000" >**</text>
<rect x="96.40" y="237.10" width="9.70" height="4.40" fill="#A50026"/>
<text x="108.6" y="241.3" font-size="5.9" text-anchor="start" textLength="31.9" lengthAdjust="spacingAndGlyphs" fill="#000" >Minor clones</text>
<rect x="96.40" y="246.70" width="9.70" height="4.30" fill="#2C4A7C"/>
<text x="108.6" y="250.9" font-size="5.9" text-anchor="start" textLength="30.8" lengthAdjust="spacingAndGlyphs" fill="#000" >Modal clone</text>
<text x="52.5" y="343.6" font-size="6.8" text-anchor="middle" fill="#000" >Non</text>
<text x="52.5" y="352.3" font-size="6.8" text-anchor="middle" fill="#000" >HyperD</text>
<text x="80.4" y="343.6" font-size="6.8" text-anchor="middle" fill="#000" >HyperD</text>
<text x="15.5" y="283.7" font-size="8.8" text-anchor="middle" transform="rotate(-90 15.5 283.7)" textLength="25.7" lengthAdjust="spacingAndGlyphs" fill="#0a0a0a" >% nuclei</text>
<!-- Panel F -->
<text x="156.9" y="223" font-size="12.6" text-anchor="start" font-weight="bold" fill="#000" >F</text>
<text x="162.2" y="254.8" font-size="6.4" text-anchor="middle" transform="rotate(-90 162.2 254.8)" fill="#000" >NonHyperD</text>
<text x="162.2" y="298.5" font-size="6.4" text-anchor="middle" transform="rotate(-90 162.2 298.5)" fill="#000" >HyperD</text>
<g clip-path="url(#cF1)">
<rect x="166.70" y="232.40" width="42.60" height="42.40" fill="#0b0610"/>
<circle cx="186.7" cy="251.2" r="8.2" fill="#2238d8" filter="url(#b1)"/>
<circle cx="188" cy="249.5" r="4.5" fill="#3a58f0" filter="url(#b1)"/>
<circle cx="181.5" cy="254" r="0.7" fill="#e03bd0"/>
<circle cx="190.5" cy="244.5" r="0.7" fill="#9fe8a0"/>
<circle cx="187" cy="253.5" r="0.7" fill="#d040c0"/>
<circle cx="175" cy="236" r="0.7" fill="#a01030"/>
<circle cx="198" cy="236" r="0.7" fill="#a01030"/>
<circle cx="171" cy="262" r="0.7" fill="#a01030"/>
<circle cx="204" cy="258" r="0.7" fill="#803040"/>
<circle cx="196" cy="270" r="0.7" fill="#205020"/>
</g>
<g clip-path="url(#cF2)">
<rect x="166.70" y="277.60" width="42.60" height="42.70" fill="#1b2017"/>
<circle cx="178.8" cy="292.4" r="8.4" fill="#2238d4" filter="url(#b1)"/>
<circle cx="197.7" cy="302.6" r="8.4" fill="#2238d4" filter="url(#b1)"/>
<circle cx="179.5" cy="290.8" r="4.5" fill="#3552ec" filter="url(#b1)"/>
<circle cx="198.3" cy="301.2" r="4.5" fill="#3552ec" filter="url(#b1)"/>
<circle cx="175.5" cy="285.8" r="0.8" fill="#ff50c0"/>
<circle cx="177.3" cy="285.3" r="0.8" fill="#7fe87f"/>
<circle cx="180" cy="295.5" r="0.8" fill="#ff40b0"/>
<circle cx="183" cy="298.5" r="0.8" fill="#7fe87f"/>
<circle cx="194.5" cy="297.5" r="0.8" fill="#ff40b0"/>
<circle cx="194" cy="300.5" r="0.8" fill="#ff40b0"/>
<circle cx="198" cy="307" r="0.8" fill="#ff40b0"/>
<circle cx="204.5" cy="306.5" r="0.8" fill="#7fe87f"/>
</g>
<rect x="167.20000000000002" y="232.8" width="41.7" height="41.6" fill="none" stroke="#000" stroke-width="0.8"/>
<rect x="167.20000000000002" y="278.09999999999997" width="41.7" height="41.800000000000004" fill="none" stroke="#000" stroke-width="0.8"/>
<line x1="249.4" y1="237.2" x2="249.4" y2="312.45" stroke="#000" stroke-width="1.1"/>
<line x1="246.6" y1="312.0" x2="249.4" y2="312.0" stroke="#000" stroke-width="0.9"/>
<text x="244.0" y="314.5" font-size="7" text-anchor="end" fill="#000" >0</text>
<line x1="246.6" y1="297.47" x2="249.4" y2="297.47" stroke="#000" stroke-width="0.9"/>
<text x="244.0" y="299.97" font-size="7" text-anchor="end" fill="#000" >20</text>
<line x1="246.6" y1="282.94" x2="249.4" y2="282.94" stroke="#000" stroke-width="0.9"/>
<text x="244.0" y="285.44" font-size="7" text-anchor="end" fill="#000" >40</text>
<line x1="246.6" y1="268.40999999999997" x2="249.4" y2="268.40999999999997" stroke="#000" stroke-width="0.9"/>
<text x="244.0" y="270.90999999999997" font-size="7" text-anchor="end" fill="#000" >60</text>
<line x1="246.6" y1="253.88" x2="249.4" y2="253.88" stroke="#000" stroke-width="0.9"/>
<text x="244.0" y="256.38" font-size="7" text-anchor="end" fill="#000" >80</text>
<line x1="246.6" y1="239.35" x2="249.4" y2="239.35" stroke="#000" stroke-width="0.9"/>
<text x="244.0" y="241.85" font-size="7" text-anchor="end" fill="#000" >100</text>
<line x1="246.6" y1="312" x2="358" y2="312" stroke="#000" stroke-width="1.0"/>
<line x1="257.0" y1="312" x2="257.0" y2="314.5" stroke="#000" stroke-width="0.9"/>
<text x="257.0" y="323.6" font-size="6.8" text-anchor="middle" fill="#000" >1</text>
<line x1="272.58" y1="312" x2="272.58" y2="314.5" stroke="#000" stroke-width="0.9"/>
<text x="272.58" y="323.6" font-size="6.8" text-anchor="middle" fill="#000" >2</text>
<line x1="288.16" y1="312" x2="288.16" y2="314.5" stroke="#000" stroke-width="0.9"/>
<text x="288.16" y="323.6" font-size="6.8" text-anchor="middle" fill="#000" >3</text>
<line x1="303.74" y1="312" x2="303.74" y2="314.5" stroke="#000" stroke-width="0.9"/>
<text x="303.74" y="323.6" font-size="6.8" text-anchor="middle" fill="#000" >4</text>
<line x1="319.32" y1="312" x2="319.32" y2="314.5" stroke="#000" stroke-width="0.9"/>
<text x="319.32" y="323.6" font-size="6.8" text-anchor="middle" fill="#000" >5</text>
<line x1="334.9" y1="312" x2="334.9" y2="314.5" stroke="#000" stroke-width="0.9"/>
<text x="334.9" y="323.6" font-size="6.8" text-anchor="middle" fill="#000" >6</text>
<line x1="350.48" y1="312" x2="350.48" y2="314.5" stroke="#000" stroke-width="0.9"/>
<text x="350.48" y="323.6" font-size="6.8" text-anchor="middle" fill="#000" >7</text>
<rect x="251.90" y="310.69" width="4.40" height="1.31" fill="#6AAF3D"/>
<rect x="257.60" y="309.97" width="4.40" height="2.03" fill="#A50026"/>
<rect x="267.48" y="242.40" width="4.40" height="69.60" fill="#6AAF3D"/>
<rect x="273.18" y="243.49" width="4.40" height="68.51" fill="#A50026"/>
<rect x="253.40" y="309.79" width="1.8" height="1" fill="#000"/>
<rect x="259.10" y="309.07" width="1.8" height="1" fill="#000"/>
<rect x="268.98" y="241.50" width="1.8" height="1" fill="#000"/>
<rect x="274.68" y="242.59" width="1.8" height="1" fill="#000"/>
<rect x="284.56" y="310.30" width="1.8" height="1" fill="#000"/>
<rect x="290.26" y="310.40" width="1.8" height="1" fill="#000"/>
<text x="304" y="231.2" font-size="8.6" text-anchor="middle" textLength="48.5" lengthAdjust="spacingAndGlyphs" fill="#000" >NonHyperD</text>
<rect x="328.00" y="240.90" width="9.30" height="4.30" fill="#6AAF3D"/>
<text x="340.2" y="244.9" font-size="5.6" text-anchor="start" fill="#000" >chr12</text>
<rect x="328.00" y="250.00" width="9.30" height="4.50" fill="#A50026"/>
<text x="340.2" y="254.2" font-size="5.6" text-anchor="start" fill="#000" >chr21</text>
<text x="227" y="274.3" font-size="9.3" text-anchor="middle" transform="rotate(-90 227 274.3)" textLength="25" lengthAdjust="spacingAndGlyphs" fill="#0a0a0a" >%nuclei</text>
<text x="303.3" y="336.6" font-size="8.8" text-anchor="middle" textLength="74" lengthAdjust="spacingAndGlyphs" fill="#000" >Number of FISH signals</text>
<line x1="398.7" y1="238.1" x2="398.7" y2="290.1" stroke="#000" stroke-width="1.1"/>
<line x1="398.7" y1="295.7" x2="398.7" y2="312.25" stroke="#000" stroke-width="1.1"/>
<line x1="396.2" y1="290.1" x2="401.2" y2="290.1" stroke="#000" stroke-width="0.9"/>
<line x1="396.2" y1="295.7" x2="401.2" y2="295.7" stroke="#000" stroke-width="0.9"/>
<line x1="395.2" y1="284.56" x2="398.7" y2="284.56" stroke="#000" stroke-width="0.9"/>
<text x="392.7" y="287.06" font-size="7" text-anchor="end" fill="#000" >20</text>
<line x1="395.2" y1="273.52" x2="398.7" y2="273.52" stroke="#000" stroke-width="0.9"/>
<text x="392.7" y="276.02" font-size="7" text-anchor="end" fill="#000" >40</text>
<line x1="395.2" y1="262.48" x2="398.7" y2="262.48" stroke="#000" stroke-width="0.9"/>
<text x="392.7" y="264.98" font-size="7" text-anchor="end" fill="#000" >60</text>
<line x1="395.2" y1="251.44" x2="398.7" y2="251.44" stroke="#000" stroke-width="0.9"/>
<text x="392.7" y="253.94" font-size="7" text-anchor="end" fill="#000" >80</text>
<line x1="395.2" y1="240.4" x2="398.7" y2="240.4" stroke="#000" stroke-width="0.9"/>
<text x="392.7" y="242.9" font-size="7" text-anchor="end" fill="#000" >100</text>
<text x="392.7" y="298.2" font-size="7" text-anchor="end" fill="#000" >5</text>
<line x1="395.2" y1="311.8" x2="398.7" y2="311.8" stroke="#000" stroke-width="0.9"/>
<text x="392.7" y="314.3" font-size="7" text-anchor="end" fill="#000" >0</text>
<line x1="395.2" y1="311.8" x2="507.8" y2="311.8" stroke="#000" stroke-width="1.0"/>
<line x1="406.2" y1="311.8" x2="406.2" y2="314.4" stroke="#000" stroke-width="0.9"/>
<text x="406.2" y="323.4" font-size="6.8" text-anchor="middle" fill="#000" >1</text>
<line x1="421.72999999999996" y1="311.8" x2="421.72999999999996" y2="314.4" stroke="#000" stroke-width="0.9"/>
<text x="421.72999999999996" y="323.4" font-size="6.8" text-anchor="middle" fill="#000" >2</text>
<line x1="437.26" y1="311.8" x2="437.26" y2="314.4" stroke="#000" stroke-width="0.9"/>
<text x="437.26" y="323.4" font-size="6.8" text-anchor="middle" fill="#000" >3</text>
<line x1="452.78999999999996" y1="311.8" x2="452.78999999999996" y2="314.4" stroke="#000" stroke-width="0.9"/>
<text x="452.78999999999996" y="323.4" font-size="6.8" text-anchor="middle" fill="#000" >4</text>
<line x1="468.32" y1="311.8" x2="468.32" y2="314.4" stroke="#000" stroke-width="0.9"/>
<text x="468.32" y="323.4" font-size="6.8" text-anchor="middle" fill="#000" >5</text>
<line x1="483.84999999999997" y1="311.8" x2="483.84999999999997" y2="314.4" stroke="#000" stroke-width="0.9"/>
<text x="483.84999999999997" y="323.4" font-size="6.8" text-anchor="middle" fill="#000" >6</text>
<line x1="499.38" y1="311.8" x2="499.38" y2="314.4" stroke="#000" stroke-width="0.9"/>
<text x="499.38" y="323.4" font-size="6.8" text-anchor="middle" fill="#000" >7</text>
<rect x="401.20" y="308.90" width="4.40" height="2.90" fill="#6AAF3D"/>
<line x1="403.59999999999997" y1="306.326" x2="403.59999999999997" y2="308.902" stroke="#000" stroke-width="0.7"/>
<rect x="407.00" y="310.83" width="4.40" height="0.97" fill="#A50026"/>
<rect x="416.73" y="241.72" width="4.40" height="48.38" fill="#6AAF3D"/>
<rect x="416.73" y="295.70" width="4.40" height="16.10" fill="#6AAF3D"/>
<rect x="422.53" y="310.51" width="4.40" height="1.29" fill="#A50026"/>
<line x1="424.83" y1="308.902" x2="424.83" y2="310.512" stroke="#000" stroke-width="0.7"/>
<rect x="438.06" y="281.25" width="4.40" height="8.85" fill="#A50026"/>
<rect x="438.06" y="295.70" width="4.40" height="16.10" fill="#A50026"/>
<line x1="440.36" y1="278.488" x2="440.36" y2="281.248" stroke="#000" stroke-width="0.7"/>
<rect x="453.59" y="256.79" width="4.40" height="33.31" fill="#A50026"/>
<rect x="453.59" y="295.70" width="4.40" height="16.10" fill="#A50026"/>
<line x1="455.89" y1="253.924" x2="455.89" y2="256.7944" stroke="#000" stroke-width="0.7"/>
<rect x="469.12" y="310.51" width="4.40" height="1.29" fill="#A50026"/>
<line x1="471.42" y1="307.93600000000004" x2="471.42" y2="310.512" stroke="#000" stroke-width="0.7"/>
<rect x="418.23" y="240.82" width="1.8" height="0.9" fill="#000"/>
<rect x="433.76" y="310.20" width="1.8" height="0.9" fill="#000"/>
<rect x="501.58" y="310.20" width="1.8" height="0.9" fill="#000"/>
<rect x="402.70" y="305.83" width="1.8" height="0.9" fill="#000"/>
<rect x="470.52" y="307.44" width="1.8" height="0.9" fill="#000"/>
<rect x="439.46" y="277.99" width="1.8" height="0.9" fill="#000"/>
<rect x="454.99" y="253.42" width="1.8" height="0.9" fill="#000"/>
<text x="453.4" y="231.3" font-size="8.6" text-anchor="middle" textLength="32" lengthAdjust="spacingAndGlyphs" fill="#000" >HyperD</text>
<rect x="477.30" y="241.90" width="9.60" height="4.00" fill="#6AAF3D"/>
<text x="489.7" y="245.7" font-size="5.6" text-anchor="start" fill="#000" >chr12</text>
<rect x="477.30" y="251.00" width="9.60" height="4.50" fill="#A50026"/>
<text x="489.7" y="255" font-size="5.6" text-anchor="start" fill="#000" >chr21</text>
<text x="376.4" y="274.3" font-size="9.3" text-anchor="middle" transform="rotate(-90 376.4 274.3)" textLength="25" lengthAdjust="spacingAndGlyphs" fill="#0a0a0a" >%nuclei</text>
<text x="453.3" y="336.5" font-size="8.8" text-anchor="middle" textLength="74" lengthAdjust="spacingAndGlyphs" fill="#000" >Number of FISH signals</text>
<rect x="0.5" y="0.5" width="519" height="360" fill="none" stroke="#000" stroke-width="1"/>
</g></svg></body></html>
